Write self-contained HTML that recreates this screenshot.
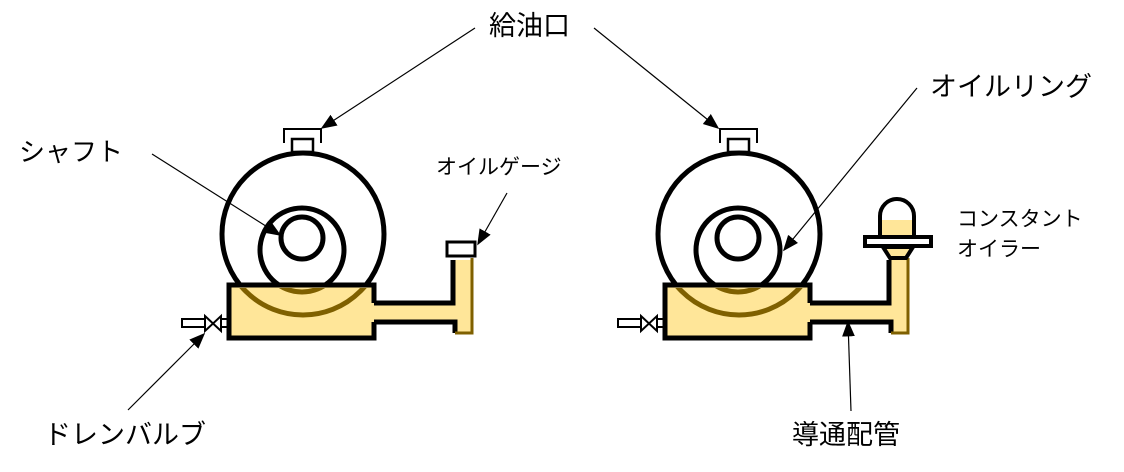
<!DOCTYPE html>
<html><head><meta charset="utf-8"><style>
html,body{margin:0;padding:0;background:#fff}
svg{display:block}
text{font-family:"Liberation Sans","Noto Sans CJK JP",sans-serif;fill:#000}
</style></head><body>
<svg width="1124" height="472" viewBox="0 0 1124 472" xmlns="http://www.w3.org/2000/svg">
<defs>
<marker id="ah2" viewBox="0 0 10 10" refX="9" refY="5" markerWidth="16" markerHeight="16" orient="auto" markerUnits="userSpaceOnUse">
<path d="M0,1 L10,5 L0,9 z" fill="#000"/></marker>
<clipPath id="cl"><rect x="231" y="288" width="141" height="48"/></clipPath>
<clipPath id="cr"><rect x="667" y="288" width="141" height="48"/></clipPath>
<g id="unit">
  <path d="M284,143 V129 H321 V143" fill="none" stroke="#000" stroke-width="2"/>
  <rect x="292" y="139" width="21" height="13" fill="#fff" stroke="#000" stroke-width="2.5"/>
  <circle cx="303" cy="234" r="81" fill="#fff" stroke="#000" stroke-width="5"/>
  <circle cx="302" cy="250" r="42" fill="none" stroke="#000" stroke-width="5"/>
  <circle cx="302" cy="238" r="21" fill="none" stroke="#000" stroke-width="5"/>
  <!-- box + pipe fill -->
  <path d="M229,285 H374 V303 H455 V260 H472 V333 H455 V322 H374 V338 H229 Z" fill="#FFE699"/>
  <path d="M374,303 H453 V260" fill="none" stroke="#000" stroke-width="5"/>
  <path d="M374,322 H455 V333" fill="none" stroke="#000" stroke-width="5"/>
  <path d="M455,333 H472 V258" fill="none" stroke="#7F6000" stroke-width="3"/>
  <!-- valve -->
  <rect x="182" y="319" width="23" height="8" fill="#fff" stroke="#000" stroke-width="2"/>
  <path d="M205,316 L221,331 V316 L205,331 Z" fill="#fff" stroke="#000" stroke-width="2"/>
  <rect x="221" y="319" width="8" height="8" fill="#fff" stroke="#000" stroke-width="2"/>
</g>
</defs>

<!-- LEFT UNIT -->
<use href="#unit"/>
<g clip-path="url(#cl)" fill="none" stroke="#7F6000" stroke-width="5">
  <circle cx="303" cy="234" r="81"/><circle cx="302" cy="250" r="42"/>
</g>
<path d="M374,303 V285 H229 V338 H374 V322" fill="none" stroke="#000" stroke-width="5"/>
<rect x="447" y="242" width="28" height="14" fill="#fff" stroke="#000" stroke-width="3"/>

<!-- RIGHT UNIT -->
<g transform="translate(436,0)">
  <use href="#unit"/>
</g>
<g clip-path="url(#cr)" fill="none" stroke="#7F6000" stroke-width="5">
  <circle cx="739" cy="234" r="81"/><circle cx="738" cy="250" r="42"/>
</g>
<path d="M810,303 V285 H665 V338 H810 V322" fill="none" stroke="#000" stroke-width="5"/>
<!-- constant oiler -->
<path d="M880,220 V216 A17,17 0 0 1 914,216 V220 Z" fill="#fff"/>
<path d="M880,220 H914 V238 H880 Z" fill="#FFE699"/>
<path d="M880,238 V216 A17,17 0 0 1 914,216 V238" fill="none" stroke="#000" stroke-width="4"/>
<path d="M883,247 L890,258 H906 L913,247 Z" fill="#FFE699" stroke="#000" stroke-width="4"/>
<rect x="865" y="237" width="66" height="9" fill="#fff" stroke="#000" stroke-width="4"/>

<!-- arrows -->
<g stroke="#000" stroke-width="1.2" fill="none">
  <line x1="475" y1="28" x2="322" y2="128" marker-end="url(#ah2)"/>
  <line x1="594" y1="28" x2="718" y2="128" marker-end="url(#ah2)"/>
  <line x1="152" y1="154" x2="280" y2="235" marker-end="url(#ah2)"/>
  <line x1="507" y1="193" x2="478" y2="244" marker-end="url(#ah2)"/>
  <line x1="917" y1="88" x2="784" y2="250" marker-end="url(#ah2)"/>
  <line x1="128" y1="410" x2="204" y2="334" marker-end="url(#ah2)"/>
  <line x1="851" y1="411" x2="848" y2="322" marker-end="url(#ah2)"/>
</g>

<!-- labels -->
<text x="489" y="35" font-size="27">給油口</text>
<text x="19" y="161" font-size="26">シャフト</text>
<text x="436" y="174" font-size="21">オイルゲージ</text>
<text x="930" y="96" font-size="27">オイルリング</text>
<text x="957" y="226" font-size="21">コンスタント</text>
<text x="957" y="256" font-size="21">オイラー</text>
<text x="44" y="444" font-size="27">ドレンバルブ</text>
<text x="792" y="444" font-size="27">導通配管</text>
</svg>
</body></html>
